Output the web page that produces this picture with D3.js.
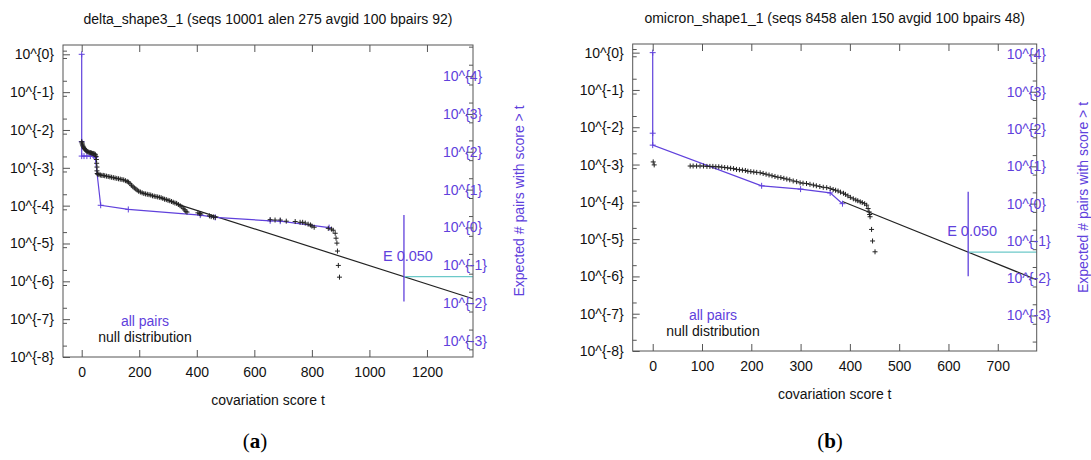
<!DOCTYPE html>
<html>
<head>
<meta charset="utf-8">
<script src="https://cdn.jsdelivr.net/npm/d3@7"></script>
<style>
  body { margin: 0; background: #fff; }
  text { font-family: "Liberation Sans", Arial, sans-serif; }
</style>
</head>
<body>
<svg id="chart" width="1091" height="460"></svg>
<script>
// ---- data: values are [covariation score t, log10 of fraction of pairs] ----
var deltaTitle = "delta_shape3_1 (seqs 10001 alen 275 avgid 100 bpairs 92)";
var deltaXTicks = [0, 200, 400, 600, 800, 1000, 1200];
var deltaAlen = 275;
var deltaAll = [[0, 0], [0, -2.31], [0, -2.69], [8, -2.69], [18, -2.69], [30, -2.69], [42, -2.69], [47, -2.72],
  [66, -3.99], [162, -4.10], [412, -4.25], [464, -4.31], [655, -4.40], [690, -4.41], [860, -4.58]];
var deltaNull = [
  [0, -2.31], [1, -2.34], [2, -2.37], [3, -2.40], [5, -2.43], [7, -2.46], [9, -2.49], [11, -2.51], [13, -2.53],
  [16, -2.55], [19, -2.57], [22, -2.58], [25, -2.59], [28, -2.60], [31, -2.60], [34, -2.61], [37, -2.62],
  [40, -2.62], [43, -2.63], [46, -2.64], [48, -2.66], [50, -2.70], [51, -2.78], [52, -2.88], [53, -2.98],
  [53, -3.08], [54, -3.15],
  [56, -3.17], [60, -3.18], [65, -3.19], [70, -3.20], [75, -3.20], [80, -3.21], [86, -3.22], [92, -3.23],
  [98, -3.24], [104, -3.25], [110, -3.26], [116, -3.27], [122, -3.28], [128, -3.29], [134, -3.30], [140, -3.31],
  [146, -3.32], [152, -3.34], [158, -3.36], [163, -3.38], [168, -3.42], [173, -3.46], [178, -3.50], [183, -3.53],
  [188, -3.56], [193, -3.59], [198, -3.62], [204, -3.64], [210, -3.66], [216, -3.68], [222, -3.69], [228, -3.70],
  [234, -3.71], [240, -3.72], [246, -3.74], [252, -3.75], [258, -3.76], [264, -3.77], [270, -3.78], [276, -3.79],
  [282, -3.81], [288, -3.83], [294, -3.84], [300, -3.86], [306, -3.87], [312, -3.89], [318, -3.91], [324, -3.93],
  [330, -3.94], [336, -3.97], [342, -4.00], [348, -4.03], [353, -4.07], [358, -4.11], [362, -4.15], [366, -4.17],
  [404, -4.19], [410, -4.21], [414, -4.22], [444, -4.27], [450, -4.29], [458, -4.30], [464, -4.31],
  [655, -4.37], [672, -4.38], [690, -4.38], [711, -4.41], [742, -4.42], [759, -4.44], [768, -4.44], [777, -4.46],
  [787, -4.49], [795, -4.51], [800, -4.54], [808, -4.57], [857, -4.60], [868, -4.62], [874, -4.65], [881, -4.73],
  [884, -4.86], [887, -4.99], [889, -5.20], [892, -5.58], [896, -5.89]];
var deltaFit = [[340, -3.98], [1360, -6.46]];
var deltaEScore = 1120;
var deltaEBar = [-4.25, -6.53];

var omicronTitle = "omicron_shape1_1 (seqs 8458 alen 150 avgid 100 bpairs 48)";
var omicronXTicks = [0, 100, 200, 300, 400, 500, 600, 700];
var omicronAlen = 150;
var omicronAll = [[0, 0], [0, -2.16], [0, -2.48], [221, -3.57], [300, -3.66], [360, -3.76], [385, -4.05]];
var omicronNull = [
  [1, -2.93], [3, -3.01], [76, -3.04], [82, -3.04], [89, -3.04], [96, -3.04], [103, -3.04], [110, -3.05],
  [116, -3.05], [122, -3.05], [128, -3.06], [134, -3.06], [140, -3.07], [146, -3.08], [152, -3.09], [158, -3.10],
  [164, -3.11], [170, -3.13], [176, -3.14], [182, -3.15], [188, -3.16], [193, -3.18], [199, -3.19], [205, -3.20],
  [211, -3.21], [218, -3.22], [224, -3.24], [230, -3.26], [236, -3.28], [242, -3.30], [248, -3.32], [254, -3.34],
  [260, -3.35], [266, -3.37], [272, -3.39], [278, -3.41], [285, -3.44], [292, -3.46], [299, -3.49], [305, -3.50],
  [312, -3.51], [319, -3.53], [326, -3.55], [332, -3.57], [339, -3.59], [346, -3.61], [353, -3.62], [360, -3.64],
  [366, -3.67], [371, -3.69], [376, -3.71], [381, -3.74], [387, -3.77], [391, -3.80], [396, -3.84], [401, -3.88],
  [407, -3.92], [412, -3.95], [416, -3.97], [421, -4.00], [425, -4.02], [430, -4.05], [434, -4.09], [437, -4.18],
  [439, -4.27], [440, -4.34], [441, -4.40], [444, -4.74], [446, -5.05], [451, -5.34]];
var omicronFit = [[385, -3.99], [779, -6.09]];
var omicronEScore = 640;
var omicronEBar = [-3.73, -5.995];

var leftTicks = [0, -1, -2, -3, -4, -5, -6, -7, -8];
var rightTicks = [4, 3, 2, 1, 0, -1, -2, -3];
var eValue = 0.05;

var purple = "#6041dc";
var cyan = "#6cc9c9";
var axisGray = "#555";

var svg = d3.select("#chart");

function plusPath(s) { return "M" + (-s) + ",0H" + s + "M0," + (-s) + "V" + s; }

function drawPanel(p) {
  var g = svg.append("g");
  var x = d3.scaleLinear().domain(p.xDomain).range([p.left, p.right]);
  var y = d3.scaleLinear().domain(p.yDomain).range([p.bottom, p.top]);
  // right axis counts pairs: fraction * alen*(alen-1)/2
  var shift = Math.log10(p.alen * (p.alen - 1) / 2);
  var y2 = d3.scaleLinear().domain([p.yDomain[0] + shift, p.yDomain[1] + shift]).range([p.bottom, p.top]);

  g.append("text").attr("x", (p.left + p.right) / 2).attr("y", p.top - 21)
    .attr("text-anchor", "middle").style("font-size", "14px").attr("fill", "#111").text(p.title);

  // null fit line
  var line = d3.line().x(function (d) { return x(d[0]); }).y(function (d) { return y(d[1]); });
  g.append("path").attr("d", line(p.fit)).attr("fill", "none").attr("stroke", "#222").attr("stroke-width", 1.2);

  // all pairs
  g.append("path").attr("d", line(p.all)).attr("fill", "none").attr("stroke", purple).attr("stroke-width", 1.2);
  g.append("g").selectAll("path").data(p.all).enter().append("path")
    .attr("transform", function (d) { return "translate(" + x(d[0]) + "," + y(d[1]) + ")"; })
    .attr("d", plusPath(3)).attr("stroke", purple).attr("stroke-width", 1).attr("fill", "none");

  // null distribution points
  g.append("g").selectAll("path").data(p.nul).enter().append("path")
    .attr("transform", function (d) { return "translate(" + x(d[0]) + "," + y(d[1]) + ")"; })
    .attr("d", plusPath(2.5)).attr("stroke", "#222").attr("stroke-width", 1).attr("fill", "none");

  // E-value marker
  var eLog = Math.log10(eValue) - shift;
  g.append("line").attr("x1", x(p.eScore)).attr("x2", p.right).attr("y1", y(eLog)).attr("y2", y(eLog))
    .attr("stroke", cyan).attr("stroke-width", 1.3);
  g.append("line").attr("x1", x(p.eScore)).attr("x2", x(p.eScore)).attr("y1", y(p.eBar[0])).attr("y2", y(p.eBar[1]))
    .attr("stroke", purple).attr("stroke-width", 1.3);
  g.append("text").attr("x", x(p.eScore) - 21).attr("y", y(eLog) - 16).attr("fill", purple)
    .style("font-size", "14.5px").text("E " + eValue.toFixed(3));

  // frame
  g.append("rect").attr("x", p.left).attr("y", p.top).attr("width", p.right - p.left).attr("height", p.bottom - p.top)
    .attr("fill", "none").attr("stroke", axisGray).attr("stroke-width", 1);

  // bottom / top axes
  var xb = g.append("g").attr("transform", "translate(0," + p.bottom + ")")
    .call(d3.axisBottom(x).tickValues(p.xTicks).tickSize(-7).tickPadding(10).tickSizeOuter(0)
      .tickFormat(d3.format("d")));
  var xt = g.append("g").attr("transform", "translate(0," + p.top + ")")
    .call(d3.axisTop(x).tickValues(p.xTicks).tickSize(-7).tickFormat("").tickSizeOuter(0));

  // left axis
  var yl = g.append("g").attr("transform", "translate(" + p.left + ",0)")
    .call(d3.axisLeft(y).tickValues(leftTicks).tickSize(-7).tickPadding(9).tickSizeOuter(0)
      .tickFormat(function (d) { return "10^{" + d + "}"; }));
  var minorL = [];
  leftTicks.forEach(function (k) { if (k > -8) { minorL.push(k - 1 + Math.log10(8)); minorL.push(k - 1 + Math.log10(2)); } });
  minorL.push(Math.log10(1.25));
  var ylm = g.append("g").attr("transform", "translate(" + p.left + ",0)")
    .call(d3.axisLeft(y).tickValues(minorL.filter(function (v) { return v <= p.yDomain[1]; }))
      .tickSize(-4).tickFormat("").tickSizeOuter(0));

  // right axis
  var yr = g.append("g").attr("transform", "translate(" + p.right + ",0)")
    .call(d3.axisRight(y2).tickValues(rightTicks).tickSize(-7).tickFormat("").tickSizeOuter(0));
  var minorR = [];
  for (var k = 5; k >= -3; k--) { minorR.push(k - 1 + Math.log10(2)); minorR.push(k - 1 + Math.log10(6)); }
  var yrm = g.append("g").attr("transform", "translate(" + p.right + ",0)")
    .call(d3.axisRight(y2).tickValues(minorR.filter(function (v) {
      return v <= p.yDomain[1] + shift && v >= p.yDomain[0] + shift; }))
      .tickSize(-4).tickFormat("").tickSizeOuter(0));
  g.append("g").selectAll("text").data(rightTicks).enter().append("text")
    .attr("x", p.right - 30).attr("y", function (d) { return y2(d); }).attr("dy", "0.35em")
    .attr("fill", purple).style("font-size", "14px")
    .text(function (d) { return "10^{" + d + "}"; });

  [xb, xt, yl, ylm, yr, yrm].forEach(function (a) {
    a.select(".domain").remove();
    a.selectAll("line").attr("stroke", axisGray);
    a.selectAll("text").style("font-size", "14px").attr("fill", "#111")
      .style("font-family", "'Liberation Sans', Arial, sans-serif");
  });

  // axis titles
  g.append("text").attr("x", (p.left + p.right) / 2).attr("y", p.bottom + 48).attr("text-anchor", "middle")
    .style("font-size", "14px").attr("fill", "#111").text("covariation score t");
  var cy = (p.top + p.bottom) / 2;
  g.append("text").attr("transform", "translate(" + (p.right + 46) + "," + cy + ") rotate(-90)")
    .attr("text-anchor", "middle").attr("dy", "0.35em").attr("fill", purple).style("font-size", "14px")
    .text("Expected # pairs with score > t");

  // key
  g.append("text").attr("x", p.keyX).attr("y", p.bottom - 31).attr("text-anchor", "middle")
    .attr("fill", purple).style("font-size", "14px").text("all pairs");
  g.append("text").attr("x", p.keyX).attr("y", p.bottom - 15).attr("text-anchor", "middle")
    .attr("fill", "#111").style("font-size", "14px").text("null distribution");

  // panel letter
  var lab = g.append("text").attr("x", p.labelX).attr("y", 448).attr("text-anchor", "middle")
    .style("font-family", "'Liberation Serif', 'DejaVu Serif', serif").style("font-size", "21px");
  lab.append("tspan").text("(");
  lab.append("tspan").style("font-weight", "bold").text(p.letter);
  lab.append("tspan").text(")");
}

drawPanel({
  title: deltaTitle, xTicks: deltaXTicks, alen: deltaAlen, all: deltaAll, nul: deltaNull, fit: deltaFit,
  eScore: deltaEScore, eBar: deltaEBar, letter: "a",
  left: 63, right: 473, top: 45, bottom: 357, xDomain: [-65, 1360], yDomain: [-8, 0.246],
  keyX: 145, labelX: 255
});
drawPanel({
  title: omicronTitle, xTicks: omicronXTicks, alen: omicronAlen, all: omicronAll, nul: omicronNull, fit: omicronFit,
  eScore: omicronEScore, eBar: omicronEBar, letter: "b",
  left: 632.7, right: 1036.7, top: 44, bottom: 351, xDomain: [-40.6, 779], yDomain: [-8, 0.232],
  keyX: 713, labelX: 830
});
</script>
</body>
</html>
